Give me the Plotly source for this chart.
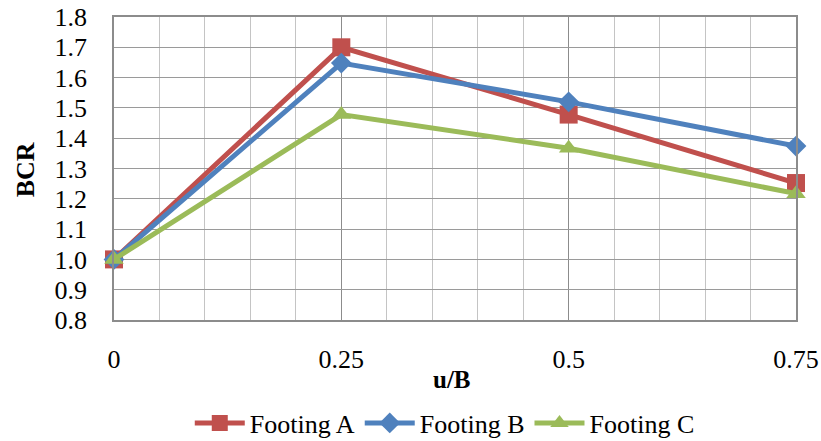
import plotly.graph_objects as go

u_over_B = [0, 0.25, 0.5, 0.75]
footing_a = [1.0, 1.70, 1.478, 1.252]
footing_b = [1.0, 1.648, 1.52, 1.374]
footing_c = [1.0, 1.478, 1.367, 1.217]
x_ticks = [0, 0.25, 0.5, 0.75]
x_tick_text = ["0", "0.25", "0.5", "0.75"]
y_ticks = [0.8, 0.9, 1.0, 1.1, 1.2, 1.3, 1.4, 1.5, 1.6, 1.7, 1.8]
y_tick_text = ["0.8", "0.9", "1.0", "1.1", "1.2", "1.3", "1.4", "1.5", "1.6", "1.7", "1.8"]

FONT = "Liberation Serif, Times New Roman, serif"

fig = go.Figure()
series = [
    ("Footing A", footing_a, "#C0504D", "square", 18),
    ("Footing B", footing_b, "#4F81BD", "diamond", 16),
    ("Footing C", footing_c, "#9BBB59", "triangle-up", 17),
]
for name, ys, color, sym, size in series:
    fig.add_trace(go.Scatter(
        x=u_over_B, y=ys, name=name, mode="lines+markers",
        line=dict(color=color, width=5),
        marker=dict(symbol=sym, size=size, color=color),
        cliponaxis=False,
    ))

fig.update_layout(
    width=821, height=441,
    margin=dict(l=114, r=25, t=17, b=121, autoexpand=False),
    paper_bgcolor="white", plot_bgcolor="white",
    font=dict(family=FONT, size=26, color="black"),
    showlegend=True,
    legend=dict(orientation="h", x=0.485, xanchor="center", y=-0.34, yanchor="middle",
                font=dict(family=FONT, size=26), itemwidth=50, tracegroupgap=0),
)
fig.update_xaxes(
    range=[0, 0.75], tickvals=x_ticks, ticktext=x_tick_text,
    showgrid=True, gridcolor="#8c8c8c", gridwidth=1,
    minor=dict(dtick=0.05, tick0=0, showgrid=True, gridcolor="#c4c4c4", gridwidth=1, ticks=""),
    showline=True, linecolor="#8c8c8c", linewidth=1.5, mirror=True,
    ticks="", ticklabelstandoff=15, zeroline=False, automargin=False,
    tickfont=dict(family=FONT, size=26),
)
fig.update_yaxes(
    range=[0.8, 1.8], tickvals=y_ticks, ticktext=y_tick_text,
    showgrid=True, gridcolor="#9a9a9a", gridwidth=1,
    showline=True, linecolor="#8c8c8c", linewidth=1.5, mirror=True,
    ticks="", ticklabelstandoff=20, zeroline=False, automargin=False,
    tickfont=dict(family=FONT, size=26),
)
fig.add_annotation(text="<b>u/B</b>", xref="paper", yref="paper", x=0.495, y=-0.197,
                   xanchor="center", yanchor="middle", showarrow=False,
                   font=dict(family=FONT, size=25))
fig.add_annotation(text="<b>BCR</b>", xref="paper", yref="paper", x=-0.13, y=0.495,
                   xanchor="center", yanchor="middle", showarrow=False, textangle=-90,
                   font=dict(family=FONT, size=26))

fig.write_html("out.html")
